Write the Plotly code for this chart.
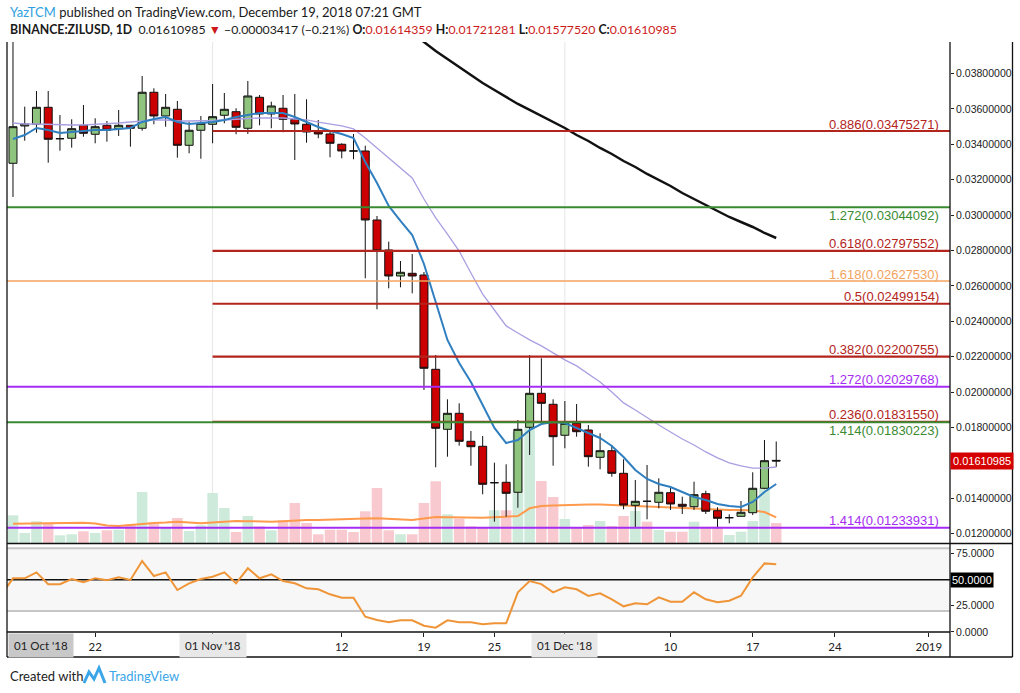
import plotly.graph_objects as go
import pandas as pd

# ---------------- data ----------------
dates = pd.date_range("2018-10-15", "2018-12-19", freq="D")

open_ = [0.032928, 0.035036, 0.035132, 0.036092, 0.034318, 0.034341, 0.035075, 0.034567, 0.035075, 0.034883,
         0.035075, 0.034906, 0.036940, 0.035601, 0.035979, 0.033945, 0.034793, 0.035132, 0.035640, 0.035844,
         0.034906, 0.036657, 0.035714, 0.036036, 0.035414, 0.035132, 0.034753, 0.034584, 0.034002, 0.033623,
         0.033623, 0.029725, 0.028030, 0.026561, 0.026713, 0.026617, 0.021289, 0.017899, 0.018803, 0.017221,
         0.016939, 0.014882, 0.014905, 0.014340, 0.018012, 0.019933, 0.019312, 0.017561, 0.018239, 0.017860,
         0.016317, 0.016690, 0.015413, 0.013605, 0.013831, 0.013775, 0.014317, 0.013662, 0.013526, 0.014261,
         0.013300, 0.012905, 0.012984, 0.013187, 0.014566, 0.01614359]
high = [0.040200, 0.036126, 0.037013, 0.037013, 0.035657, 0.035414, 0.036222, 0.035471, 0.035318, 0.035940,
        0.035092, 0.037861, 0.037166, 0.036844, 0.036448, 0.035278, 0.035601, 0.037409, 0.036900, 0.036036,
        0.037578, 0.036787, 0.036409, 0.036787, 0.036844, 0.036544, 0.035375, 0.034713, 0.034058, 0.034584,
        0.033922, 0.029951, 0.028499, 0.027408, 0.027804, 0.026787, 0.022097, 0.019594, 0.019368, 0.017803,
        0.017521, 0.016012, 0.015921, 0.018425, 0.022097, 0.021911, 0.019594, 0.019498, 0.019329, 0.018142,
        0.017673, 0.017012, 0.016204, 0.015035, 0.015882, 0.015131, 0.014656, 0.014091, 0.014939, 0.014430,
        0.013492, 0.013097, 0.013848, 0.015470, 0.017295, 0.01721281]
low = [0.031024, 0.034205, 0.034657, 0.032962, 0.033640, 0.033810, 0.034431, 0.034058, 0.034149, 0.034471,
       0.033866, 0.034770, 0.035132, 0.034996, 0.033244, 0.033493, 0.033188, 0.034058, 0.035188, 0.034567,
       0.034584, 0.035075, 0.034906, 0.034680, 0.033115, 0.034092, 0.034341, 0.033267, 0.033211, 0.033154,
       0.026431, 0.024679, 0.025865, 0.025922, 0.025583, 0.020120, 0.015752, 0.016351, 0.016973, 0.015842,
       0.014227, 0.012679, 0.012961, 0.013470, 0.016447, 0.018142, 0.015842, 0.016826, 0.017481, 0.015786,
       0.015640, 0.015221, 0.013379, 0.012362, 0.012814, 0.013436, 0.013340, 0.013114, 0.013340, 0.013114,
       0.012306, 0.012589, 0.012961, 0.013057, 0.014520, 0.0157752]
close = [0.034996, 0.035149, 0.036092, 0.034284, 0.034318, 0.034883, 0.034623, 0.034996, 0.034793, 0.035075,
         0.034906, 0.036940, 0.035601, 0.036092, 0.033945, 0.034793, 0.035188, 0.035561, 0.035979, 0.034962,
         0.036731, 0.035714, 0.036166, 0.035414, 0.035149, 0.034697, 0.034584, 0.034058, 0.033623, 0.033623,
         0.029725, 0.027990, 0.026561, 0.026770, 0.026561, 0.021346, 0.017956, 0.018803, 0.017221, 0.016916,
         0.014792, 0.014882, 0.014283, 0.017899, 0.019933, 0.019368, 0.017481, 0.018239, 0.017764, 0.016351,
         0.016690, 0.015413, 0.013622, 0.013831, 0.013831, 0.014340, 0.013679, 0.013549, 0.014204, 0.013267,
         0.012871, 0.012905, 0.013210, 0.014566, 0.016125, 0.01610985]

volume = [554, 200, 434, 400, 154, 174, 234, 200, 254, 266, 374, 1020, 386, 320, 500, 240, 354, 1000, 700, 220,
          540, 334, 254, 454, 800, 400, 174, 266, 266, 220, 634, 1100, 254, 174, 174, 800, 1234, 574, 486, 334,
          306, 654, 654, 2220, 2320, 1240, 920, 480, 306, 360, 440, 340, 540, 640, 426, 260, 226, 226, 426, 326,
          326, 160, 226, 440, 1100, 400]
volume_dir = ["up", "up", "up", "dn", "up", "up", "dn", "up", "dn", "up", "dn", "up", "dn", "up", "dn", "up", "up",
              "up", "up", "dn", "up", "dn", "up", "dn", "dn", "dn", "dn", "dn", "dn", "dn", "dn", "dn", "dn", "up",
              "dn", "dn", "dn", "up", "dn", "dn", "dn", "up", "dn", "up", "up", "dn", "dn", "up", "dn", "dn", "up",
              "dn", "dn", "up", "dn", "up", "dn", "dn", "up", "dn", "dn", "up", "up", "up", "up", "dn"]
volume_ma = [384, 390, 396, 400, 404, 406, 406, 390, 350, 340, 360, 390, 400, 410, 426, 410, 394, 410, 430, 440,
             436, 426, 426, 436, 450, 460, 460, 470, 474, 480, 490, 494, 480, 470, 460, 490, 520, 516, 510, 506,
             506, 514, 520, 540, 694, 740, 750, 760, 760, 770, 770, 760, 740, 730, 720, 710, 700, 690, 680, 670,
             666, 662, 660, 650, 620, 514]

ma_fast = [0.034301, 0.034527, 0.034923, 0.034810, 0.034640, 0.034697, 0.034753, 0.034810, 0.034810, 0.034866,
           0.034923, 0.035262, 0.035431, 0.035544, 0.035262, 0.035149, 0.035205, 0.035262, 0.035375, 0.035544,
           0.035657, 0.035770, 0.035770, 0.035770, 0.035544, 0.035262, 0.034979, 0.034753, 0.034584, 0.034358,
           0.033002, 0.031815, 0.030516, 0.029668, 0.028877, 0.027239, 0.025035, 0.022945, 0.021645, 0.020572,
           0.019272, 0.017973, 0.017125, 0.017295, 0.017860, 0.018199, 0.018312, 0.018255, 0.017973, 0.017690,
           0.017408, 0.016956, 0.016334, 0.015600, 0.015091, 0.014809, 0.014639, 0.014357, 0.014074, 0.013905,
           0.013679, 0.013566, 0.013509, 0.013792, 0.014357, 0.014809]
ma_mid = [0.035205, 0.035149, 0.035149, 0.035120, 0.035092, 0.035092, 0.035092, 0.035120, 0.035149, 0.035205,
          0.035262, 0.035318, 0.035375, 0.035375, 0.035318, 0.035318, 0.035318, 0.035346, 0.035375, 0.035431,
          0.035459, 0.035488, 0.035488, 0.035488, 0.035431, 0.035380, 0.035260, 0.035150, 0.035040, 0.034870,
          0.034360, 0.033790, 0.033230, 0.032660, 0.032100, 0.030910, 0.029840, 0.028930, 0.027970, 0.026730,
          0.025540, 0.024640, 0.023740, 0.023340, 0.022950, 0.022610, 0.022210, 0.021820, 0.021480, 0.021020,
          0.020570, 0.020010, 0.019390, 0.018990, 0.018540, 0.018140, 0.017750, 0.017350, 0.017010, 0.016620,
          0.016280, 0.016000, 0.015830, 0.015710, 0.015710, 0.015770]
ma_slow_dates = dates[33:]
ma_slow = [0.040742, 0.040290, 0.039781, 0.039273, 0.038821, 0.038369, 0.037917, 0.037465, 0.037070, 0.036674,
           0.036279, 0.035940, 0.035601, 0.035262, 0.034923, 0.034527, 0.034188, 0.033793, 0.033454, 0.033058,
           0.032719, 0.032324, 0.031985, 0.031646, 0.031250, 0.030911, 0.030572, 0.030233, 0.029894, 0.029612,
           0.029329, 0.028990, 0.028708]

rsi_dates = [pd.Timestamp("2018-10-14")] + list(dates)
rsi = [35.3, 51.3, 51.3, 57.0, 45.6, 45.6, 50.6, 47.5, 51.3, 49.4, 52.2, 49.7, 67.8, 53.5, 57.0, 40.1, 46.5,
       50.6, 52.8, 57.0, 46.5, 60.9, 51.3, 55.1, 48.7, 46.5, 41.7, 40.8, 36.0, 32.7, 32.7, 14.5, 11.4, 9.2,
       11.1, 11.1, 5.9, 4.0, 11.1, 9.2, 9.2, 7.3, 8.2, 8.2, 37.9, 48.7, 45.8, 37.9, 42.7, 40.8, 34.4, 36.9,
       31.2, 24.5, 27.4, 26.4, 33.1, 28.9, 28.9, 37.9, 31.2, 28.3, 29.9, 34.6, 52.2, 65.6, 64.7]

fib_ratio = ["0.886", "1.272", "0.618", "1.618", "0.5", "0.382", "1.272", "0.236", "1.414", "1.414"]
fib_value = [0.03475271, 0.03044092, 0.02797552, 0.02627530, 0.02499154, 0.02200755, 0.02029768,
             0.01831550, 0.01830223, 0.01233931]
fib_color = ["#b3241c", "#3a8a32", "#b3241c", "#f3a35e", "#b3241c", "#b3241c", "#a52cf2",
             "#b3241c", "#3a8a32", "#a52cf2"]
fib_from_nov1 = [True, False, True, False, True, True, False, True, False, False]
fib_label_below = [False, True, False, False, False, False, False, False, True, False]

price_ticks = [0.038, 0.036, 0.034, 0.032, 0.030, 0.028, 0.026, 0.024, 0.022, 0.020, 0.018, 0.014, 0.012]
rsi_ticks = [75, 25, 0]
time_tick_dates = ["2018-10-22", "2018-11-01", "2018-11-12", "2018-11-19", "2018-11-25", "2018-12-01",
                   "2018-12-10", "2018-12-17", "2018-12-24", "2019-01-01"]
time_tick_text = ["22", "", "12", "19", "25", "", "10", "17", "24", "2019"]

last_price = 0.01610985

# ---------------- layout geometry ----------------
W, H = 1020, 693
L, R, T, B = 7, 950, 42, 632      # plotting rectangle in px
PRICE_BOTTOM = 543


def px(x):
    return (x - L) / (R - L)


def py(y):
    return (B - y) / (B - T)


price_dom = [py(PRICE_BOTTOM), 1.0]
rsi_dom = [0.0, py(545)]
x_range = ["2018-10-14 11:46", "2019-01-02 19:12"]

COND = "Lato"
SANS = "Liberation Sans"

fig = go.Figure()

# volume (base axis of the price pane, drawn underneath)
fig.add_trace(go.Bar(x=dates, y=volume,
                     marker=dict(color=["#cdeadb" if d == "up" else "#f8c9ce" for d in volume_dir],
                                 line=dict(width=0)),
                     xaxis="x", yaxis="y", hoverinfo="skip", showlegend=False))
fig.add_trace(go.Scatter(x=dates, y=volume_ma, mode="lines", line=dict(color="#ff9a4c", width=2),
                         xaxis="x", yaxis="y", hoverinfo="skip", showlegend=False))

# candles
fig.add_trace(go.Candlestick(x=dates, open=open_, high=high, low=low, close=close,
                             increasing=dict(fillcolor="#8fc47e", line=dict(color="#111111", width=1)),
                             decreasing=dict(fillcolor="#cc0000", line=dict(color="#111111", width=1)),
                             xaxis="x", yaxis="y3", hoverinfo="skip", showlegend=False))

fig.add_trace(go.Scatter(x=dates, y=ma_mid, mode="lines", line=dict(color="#a99fe2", width=1.3),
                         xaxis="x", yaxis="y3", hoverinfo="skip", showlegend=False))
fig.add_trace(go.Scatter(x=dates, y=ma_fast, mode="lines", line=dict(color="#2f7fc0", width=2),
                         xaxis="x", yaxis="y3", hoverinfo="skip", showlegend=False))
fig.add_trace(go.Scatter(x=ma_slow_dates, y=ma_slow, mode="lines", line=dict(color="#111111", width=2.5),
                         xaxis="x", yaxis="y3", hoverinfo="skip", showlegend=False))

# RSI
fig.add_trace(go.Scatter(x=rsi_dates, y=rsi, mode="lines", line=dict(color="#ef9538", width=2),
                         xaxis="x2", yaxis="y2", hoverinfo="skip", showlegend=False))

shapes = []
annotations = []

# vertical month grid lines
for d in ["2018-11-01", "2018-12-01"]:
    shapes.append(dict(type="line", xref="x", yref="paper", x0=d, x1=d, y0=py(PRICE_BOTTOM), y1=1,
                       line=dict(color="#e6e6e6", width=1), layer="below"))

# RSI band
shapes.append(dict(type="rect", xref="paper", yref="y2", x0=0, x1=1, y0=20, y1=80,
                   fillcolor="#f7f7f7", line=dict(width=0), layer="below"))
for lvl, col, wd in [(80, "#c6c6c6", 2), (20, "#c6c6c6", 2), (50, "#111111", 1.5)]:
    shapes.append(dict(type="line", xref="paper", yref="y2", x0=0, x1=1, y0=lvl, y1=lvl,
                       line=dict(color=col, width=wd), layer="below"))

# fibonacci levels
for ratio, val, col, nov1, below in zip(fib_ratio, fib_value, fib_color, fib_from_nov1, fib_label_below):
    if nov1:
        shapes.append(dict(type="line", xref="x", yref="y3", x0="2018-11-01", x1=x_range[1], y0=val, y1=val,
                           line=dict(color=col, width=2.2), layer="above"))
    else:
        shapes.append(dict(type="line", xref="paper", yref="y3", x0=0, x1=1, y0=val, y1=val,
                           line=dict(color=col, width=2 if col != "#f3a35e" else 1.6), layer="above"))
    annotations.append(dict(xref="paper", yref="y3", x=px(941), y=val, xanchor="right",
                            yanchor="middle", yshift=-8 if below else 7, showarrow=False,
                            text=f"{ratio}({val:.8f})", font=dict(family=SANS, size=13, color=col)))

# frame lines
frame = [
    (L, T, L, 657), (R, T, R, 657), (1012.5, T, 1012.5, 657),
    (L, PRICE_BOTTOM + 0.5, 1012.5, PRICE_BOTTOM + 0.5), (L, B, R, B), (L, 657, 1012.5, 657),
]
for x0, y0, x1, y1 in frame:
    shapes.append(dict(type="line", xref="paper", yref="paper", x0=px(x0), y0=py(y0), x1=px(x1), y1=py(y1),
                       line=dict(color="#111111", width=1.3), layer="above"))

# price / rsi tags
annotations.append(dict(xref="paper", yref="y3", x=1, y=last_price, xanchor="left", yanchor="middle",
                        showarrow=False, text="0.01610985", bgcolor="#d50000", borderpad=2,
                        font=dict(family=SANS, size=11, color="white")))
annotations.append(dict(xref="paper", yref="y2", x=1, y=50, xanchor="left", yanchor="middle",
                        showarrow=False, text="50.0000", bgcolor="#000000", borderpad=1,
                        font=dict(family=SANS, size=11, color="white")))

# time axis month boxes
annotations.append(dict(xref="paper", yref="paper", x=px(7.5), y=py(645), xanchor="left", yanchor="middle",
                        showarrow=False, text="01 Oct '18", bgcolor="#c8c8c8", borderpad=5,
                        font=dict(family=COND, size=11.5, color="#222")))
for d, t in [("2018-11-01", "01 Nov '18"), ("2018-12-01", "01 Dec '18")]:
    annotations.append(dict(xref="x2", yref="paper", x=d, y=py(645), xanchor="center", yanchor="middle",
                            showarrow=False, text=t, bgcolor="#e8e8e8", borderpad=5,
                            font=dict(family=COND, size=11.5, color="#222")))

# header
annotations.append(dict(xref="paper", yref="paper", x=px(8), y=py(12), xanchor="left", yanchor="middle",
                        showarrow=False,
                        text="<span style='color:#2e9fe0'>YazTCM</span> published on TradingView.com, "
                             "December 19, 2018 07:21 GMT",
                        font=dict(family=COND, size=13, color="#1a1a1a")))
red = "#cc1a1a"
annotations.append(dict(xref="paper", yref="paper", x=px(8), y=py(29), xanchor="left", yanchor="middle",
                        showarrow=False,
                        text=("<b>BINANCE:ZILUSD, 1D</b>  0.01610985 "
                              f"<span style='color:{red}'>▼</span> −0.00003417 (−0.21%) "
                              f"<b>O:</b><span style='color:{red}'>0.01614359</span> "
                              f"<b>H:</b><span style='color:{red}'>0.01721281</span> "
                              f"<b>L:</b><span style='color:{red}'>0.01577520</span> "
                              f"<b>C:</b><span style='color:{red}'>0.01610985</span>"),
                        font=dict(family=COND, size=12.3, color="#1a1a1a")))

# footer
annotations.append(dict(xref="paper", yref="paper", x=px(8), y=py(676), xanchor="left", yanchor="middle",
                        showarrow=False, text="Created with",
                        font=dict(family=COND, size=13, color="#222")))
annotations.append(dict(xref="paper", yref="paper", x=px(107), y=py(676), xanchor="left", yanchor="middle",
                        showarrow=False, text="TradingView",
                        font=dict(family=COND, size=13, color="#3aa5e8")))
logo = [(84, 683), (89, 672), (94, 679), (99, 668), (105, 683)]
path = "M " + " L ".join(f"{px(a):.5f},{py(b):.5f}" for a, b in logo)
shapes.append(dict(type="path", xref="paper", yref="paper", path=path,
                   line=dict(color="#3aa5e8", width=3)))

fig.update_layout(
    width=W, height=H, autosize=False,
    margin=dict(l=L, r=W - R, t=T, b=H - B, pad=0),
    paper_bgcolor="white", plot_bgcolor="white",
    showlegend=False, hovermode=False,
    boxgap=0.32, boxgroupgap=0, bargap=0.1,
    shapes=shapes, annotations=annotations,
    xaxis=dict(domain=[0, 1], anchor="y", type="date", range=x_range, showticklabels=False,
               showgrid=False, zeroline=False, ticks="", rangeslider=dict(visible=False), fixedrange=True),
    xaxis2=dict(domain=[0, 1], anchor="y2", type="date", range=x_range, matches="x",
                tickmode="array", tickvals=time_tick_dates, ticktext=time_tick_text,
                ticks="outside", ticklen=4, tickcolor="#222", showgrid=False, zeroline=False,
                tickfont=dict(family=COND, size=11.5, color="#222"), fixedrange=True),
    yaxis=dict(domain=price_dom, range=[0, 10020], visible=False, fixedrange=True),
    yaxis3=dict(overlaying="y", anchor="x", side="right", range=[0.011475, 0.039781],
                tickmode="array", tickvals=price_ticks, ticktext=[f"{v:.8f}" for v in price_ticks],
                ticks="outside", ticklen=3, tickcolor="#222", showgrid=False, zeroline=False,
                tickfont=dict(family=SANS, size=10.5, color="#222"), fixedrange=True),
    yaxis2=dict(domain=rsi_dom, anchor="x2", side="right", range=[-0.1, 83.2],
                tickmode="array", tickvals=rsi_ticks, ticktext=[f"{v:.4f}" for v in rsi_ticks],
                ticks="outside", ticklen=3, tickcolor="#222", showgrid=False, zeroline=False,
                tickfont=dict(family=SANS, size=10.5, color="#222"), fixedrange=True),
)

fig.write_html("out.html", config={"displayModeBar": False, "staticPlot": True},
               post_script="document.body.style.margin='0px';document.body.style.overflow='hidden';")
